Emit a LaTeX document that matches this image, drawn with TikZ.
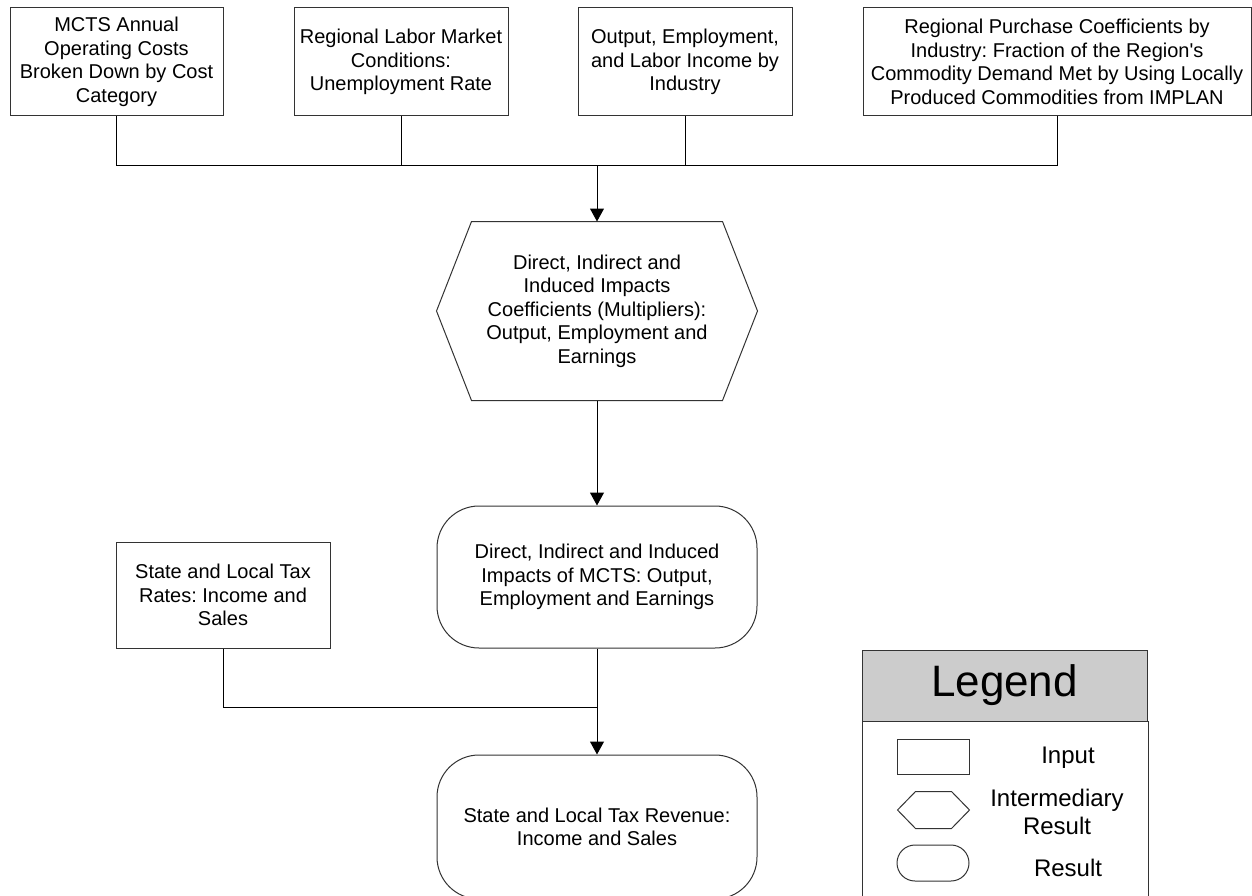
\documentclass[tikz,border=0pt]{standalone}
\usepackage{fontspec}
\setmainfont{Liberation Sans}
\usetikzlibrary{arrows.meta}
\frenchspacing

\begin{document}
\begin{tikzpicture}[
  x = 1pt,
  y = -1pt,
  line width = 1pt,
  box/.style = {
    shape = rectangle,
    draw = black!80,
    align = center,
    inner sep = 0pt,
    font = \fontsize{20}{23.5}\selectfont,
  },
  result/.style = {
    box,
    rounded corners = 42pt,
  },
  hexbox/.style = {
    box,
    draw = none,
  },
  legtext/.style = {
    align = center,
    inner sep = 0pt,
    font = \fontsize{24}{28}\selectfont,
  },
  arr/.style = {
    -{Triangle[width = 14pt, length = 13pt]}
  }
]
  \useasboundingbox (0, 0) rectangle (1252, 896);
  \clip (0, 0) rectangle (1252, 896);

  \draw node[box, minimum width = 213pt, minimum height = 108pt] (in1) at (116.5, 62)
    {MCTS Annual\\Operating Costs\\Broken Down by Cost\\Category};
  \draw node[box, minimum width = 214pt, minimum height = 108pt] (in2) at (401, 62)
    {Regional Labor Market\\Conditions:\\Unemployment Rate};
  \draw node[box, minimum width = 214pt, minimum height = 108pt] (in3) at (685, 62)
    {Output, Employment,\\and Labor Income by\\Industry};
  \draw node[box, minimum width = 388pt, minimum height = 108pt] (in4) at (1057, 62)
    {Regional Purchase Coefficients by\\Industry: Fraction of the Region\textquotesingle s\\Commodity Demand Met by Using Locally\\Produced Commodities from IMPLAN};

  \draw node[hexbox, minimum width = 320pt, minimum height = 178pt] (hex) at (597, 311)
    {Direct, Indirect and\\Induced Impacts\\Coefficients (Multipliers):\\Output, Employment and\\Earnings};
  \draw[color = black!80] ([xshift = 35pt]hex.north west) -- ([xshift = -35pt]hex.north east)
    -- (hex.east) -- ([xshift = -35pt]hex.south east) -- ([xshift = 35pt]hex.south west)
    -- (hex.west) -- cycle;

  \draw node[result, minimum width = 320pt, minimum height = 142pt] (res1) at (597, 577)
    {Direct, Indirect and Induced\\Impacts of MCTS: Output,\\Employment and Earnings};
  \draw node[box, minimum width = 214pt, minimum height = 106pt] (tax) at (223, 595)
    {State and Local Tax\\Rates: Income and\\Sales};
  \draw node[result, minimum width = 320pt, minimum height = 144pt] (res2) at (597, 827)
    {State and Local Tax Revenue:\\Income and Sales};

  % connectors
  \coordinate (bus1) at (597, 166);
  \coordinate (bus2) at (597, 707);
  \draw (in1) |- (bus1);
  \draw (in2) |- (bus1);
  \draw (in3) |- (bus1);
  \draw (in4) |- (bus1);
  \draw[arr] (bus1) -- (hex);
  \draw[arr] (hex) -- (res1);
  \draw (tax) |- (bus2);
  \draw[arr] (res1) -- (res2);

  % legend
  \draw node[box, minimum width = 286pt, minimum height = 184pt] (legbody) at (1005, 813) {};
  \draw node[box, fill = black!20, minimum width = 285pt, minimum height = 71pt,
    font = \fontsize{44}{50}\selectfont] (leghead) at (1004.5, 685.5) {Legend};

  \draw node[box, minimum width = 72pt, minimum height = 35pt] (keyin) at (933, 756.5) {};
  \draw node[hexbox, minimum width = 71pt, minimum height = 36pt] (keyhex) at (933.5, 810) {};
  \draw[color = black!80] ([xshift = 18pt]keyhex.north west) -- ([xshift = -18pt]keyhex.north east)
    -- (keyhex.east) -- ([xshift = -18pt]keyhex.south east) -- ([xshift = 18pt]keyhex.south west)
    -- (keyhex.west) -- cycle;
  \draw node[box, rounded corners = 18pt, minimum width = 72pt, minimum height = 36pt] (keyres) at (933, 863) {};

  \draw node[legtext] (keyinlab) at (1068, 758) {Input};
  \draw node[legtext] (keyhexlab) at (1057, 812) {Intermediary\\Result};
  \draw node[legtext] (keyreslab) at (1068, 868) {Result};
\end{tikzpicture}
\end{document}
